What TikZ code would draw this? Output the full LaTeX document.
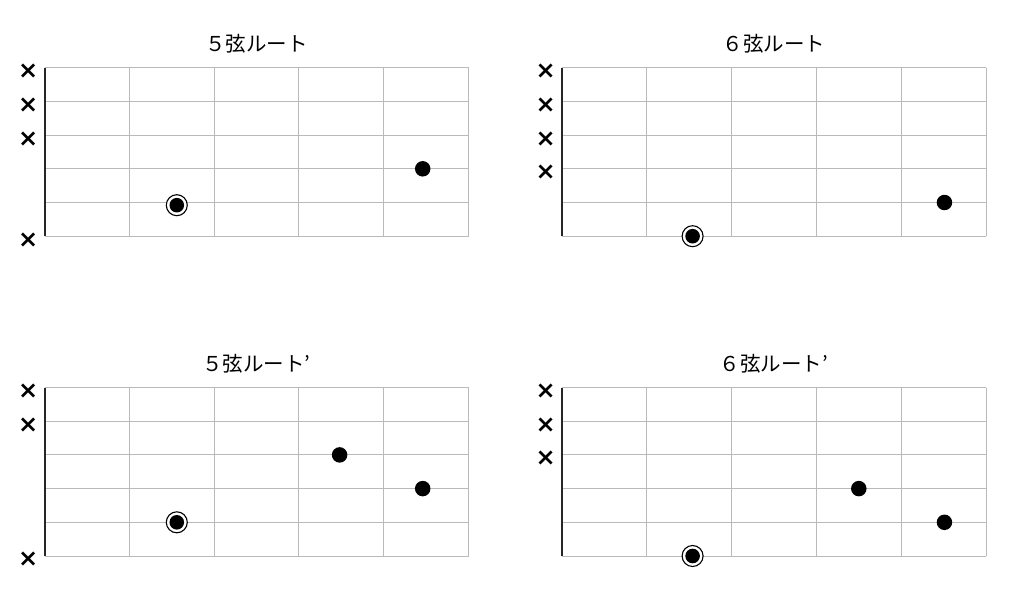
\documentclass[tikz,border=0pt]{standalone}
\usepackage{fontspec}
\usepackage{tikz}
\newfontfamily\jpfont{Noto Sans CJK JP}
\newfontfamily\mutefont{DejaVu Sans}

\tikzset{
  fretline/.style={draw=black!27, line width=1pt},
  nutline/.style={draw=black!85, line width=2pt},
  title/.style={font=\jpfont\fontsize{20.5}{24}\selectfont, anchor=base},
  mute/.style={font=\mutefont\bfseries\fontsize{24}{28}\selectfont, inner sep=0pt, xshift=-16.3pt, yshift=-3.7pt},
  fingerdot/.style={circle, fill=black, inner sep=0pt, minimum size=15.5pt},
  rootdot/.style={circle, draw=black, line width=1.1pt, fill=white, inner sep=0pt, minimum size=21pt,
    path picture={\fill[black] (path picture bounding box.center) circle (7.3pt);}}
}

\begin{document}
\begin{tikzpicture}
\useasboundingbox (0,0) rectangle (1024pt,-605pt);

% 5弦ルート
\begin{scope}[shift={(44.5pt,-67.7pt)}, x=84.8pt, y=-33.7pt]
\foreach \s in {0,...,5} \draw[fretline] (0,\s)--(5,\s);
\foreach \f in {1,...,5} \draw[fretline] (\f,0)--(\f,5);
\draw[nutline] (0,0)--(0,5);
\node[title] (title5) at (2.5,-0.48) {５弦ルート};
\node[mute] (m5a) at (0,0) {×};
\node[mute] (m5b) at (0,1) {×};
\node[mute] (m5c) at (0,2) {×};
\node[mute] (m5f) at (0,5) {×};
\node[rootdot] (root5) at (1.56,4.08) {};
\node[fingerdot] (dot5) at (4.46,3) {};
\end{scope}

% 6弦ルート
\begin{scope}[shift={(562pt,-67.7pt)}, x=84.8pt, y=-33.7pt]
\foreach \s in {0,...,5} \draw[fretline] (0,\s)--(5,\s);
\foreach \f in {1,...,5} \draw[fretline] (\f,0)--(\f,5);
\draw[nutline] (0,0)--(0,5);
\node[title] (title6) at (2.5,-0.48) {６弦ルート};
\node[mute] (m6a) at (0,0) {×};
\node[mute] (m6b) at (0,1) {×};
\node[mute] (m6c) at (0,2) {×};
\node[mute] (m6d) at (0,3) {×};
\node[rootdot] (root6) at (1.54,5) {};
\node[fingerdot] (dot6) at (4.51,4) {};
\end{scope}

% 5弦ルート'
\begin{scope}[shift={(44.5pt,-387.5pt)}, x=84.8pt, y=-33.7pt]
\foreach \s in {0,...,5} \draw[fretline] (0,\s)--(5,\s);
\foreach \f in {1,...,5} \draw[fretline] (\f,0)--(\f,5);
\draw[nutline] (0,0)--(0,5);
\node[title] (title5p) at (2.5,-0.48) {５弦ルート’};
\node[mute] (m5pa) at (0,0) {×};
\node[mute] (m5pb) at (0,1) {×};
\node[mute] (m5pf) at (0,5) {×};
\node[rootdot] (root5p) at (1.56,4) {};
\node[fingerdot] (dot5pa) at (3.48,2) {};
\node[fingerdot] (dot5pb) at (4.46,3) {};
\end{scope}

% 6弦ルート'
\begin{scope}[shift={(562pt,-387.5pt)}, x=84.8pt, y=-33.7pt]
\foreach \s in {0,...,5} \draw[fretline] (0,\s)--(5,\s);
\foreach \f in {1,...,5} \draw[fretline] (\f,0)--(\f,5);
\draw[nutline] (0,0)--(0,5);
\node[title] (title6p) at (2.5,-0.48) {６弦ルート’};
\node[mute] (m6pa) at (0,0) {×};
\node[mute] (m6pb) at (0,1) {×};
\node[mute] (m6pc) at (0,2) {×};
\node[rootdot] (root6p) at (1.54,5) {};
\node[fingerdot] (dot6pa) at (3.5,3) {};
\node[fingerdot] (dot6pb) at (4.51,4) {};
\end{scope}
\end{tikzpicture}
\end{document}
